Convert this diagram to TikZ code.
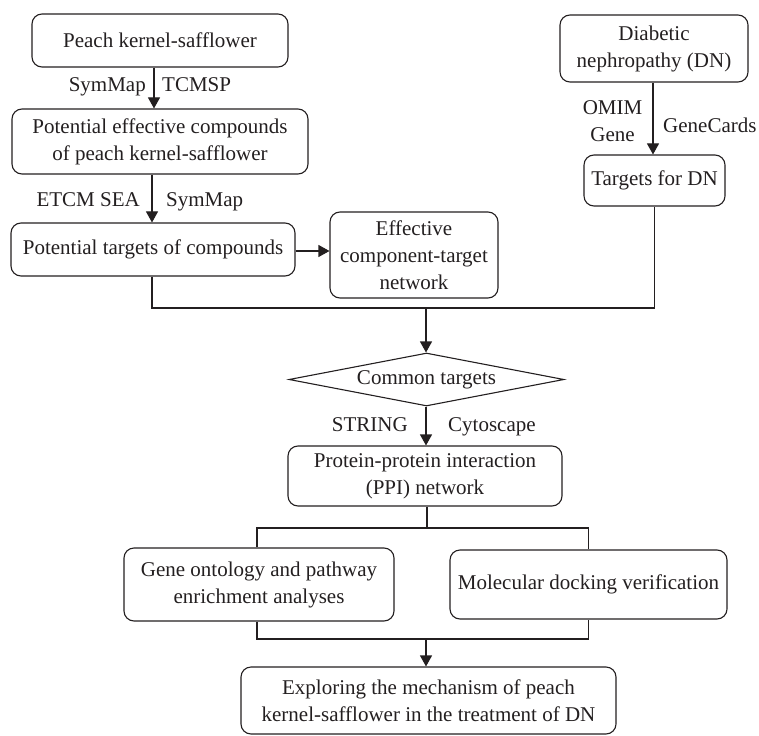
\documentclass[tikz,border=0pt]{standalone}
\usepackage{fontspec}
\setmainfont{Liberation Serif}
\usetikzlibrary{arrows.meta,shapes.geometric}
\definecolor{ink}{HTML}{231F20}
\tikzset{
  box/.style={draw=ink, line width=1.1pt, rounded corners=10pt, align=center,
    inner sep=0pt, text=ink, font=\fontsize{21}{27}\selectfont},
  lab/.style={inner sep=0pt, text=ink, font=\fontsize{21}{27}\selectfont},
  conn/.style={draw=ink, line width=1.1pt},
  arr/.style={conn, -{Triangle[width=12pt,length=11pt]}},
}
\begin{document}
\begin{tikzpicture}[x=1pt,y=-1pt]
\useasboundingbox (0,0) rectangle (759,735);
% boxes
\node[box, minimum width=256pt, minimum height=53pt] (b1) at (160,40.5) {Peach kernel-safflower};
\node[box, minimum width=296pt, minimum height=65pt] (b2) at (160,141.5) {Potential effective compounds\\of peach kernel-safflower};
\node[box, minimum width=284pt, minimum height=53pt] (b3) at (153,249.5) {Potential targets of compounds};
\node[box, minimum width=168pt, minimum height=86pt] (b4) at (414,255) {Effective\\component-target\\network};
\node[box, minimum width=188pt, minimum height=67pt] (dn) at (654,48.5) {Diabetic\\nephropathy (DN)};
\node[box, minimum width=141pt, minimum height=51pt] (tdn) at (654.5,180.5) {Targets for DN};
\node[draw=ink, line width=1.1pt, diamond, aspect=5.2, inner sep=0pt, minimum width=275pt, minimum height=53pt,
  text=ink, font=\fontsize{21}{27}\selectfont] (dia) at (426.5,379.5) {Common targets};
\node[box, minimum width=274pt, minimum height=60pt] (ppi) at (425,476) {Protein-protein interaction\\(PPI) network};
\node[box, minimum width=270pt, minimum height=73pt] (gene) at (259,584.5) {Gene ontology and pathway\\enrichment analyses};
\node[box, minimum width=277pt, minimum height=69pt] (mol) at (588.5,584.5) {Molecular docking verification};
\node[box, minimum width=375pt, minimum height=67pt] (fin) at (428.5,700.5) {Exploring the mechanism of peach\\kernel-safflower in the treatment of DN};
% labels
\node[lab, anchor=base east] (l1) at (146,92) {SymMap};
\node[lab, anchor=base west] (l2) at (162,92) {TCMSP};
\node[lab, anchor=base east] (l3) at (140,207) {ETCM SEA};
\node[lab, anchor=base west] (l4) at (166,207) {SymMap};
\node[lab, align=center] (l5) at (612.5,121.5) {OMIM\\Gene};
\node[lab, anchor=base west] (l6) at (663,133) {GeneCards};
\node[lab, anchor=base east] (l7) at (408,431) {STRING};
\node[lab, anchor=base west] (l8) at (448,431) {Cytoscape};
% junctions
\coordinate (j1) at (426,308);
\coordinate (j2) at (427,528);
\coordinate (j3) at (426,639);
% connectors
\draw[arr] ([xshift=-6pt]b1.south) -- ([xshift=-6pt]b2.north);
\draw[arr] ([xshift=-8pt]b2.south) -- ([xshift=-1pt]b3.north);
\draw[arr] (b3.east |- 0,251) -- (b4.west |- 0,251);
\draw[arr] ([xshift=-1pt]dn.south) -- ([xshift=-1.5pt]tdn.north);
\draw[conn] ([xshift=-1pt]b3.south) |- (j1) -| (tdn.south);
\draw[arr] (j1) -- (dia.north -| j1);
\draw[arr] (dia.south -| j1) -- (ppi.north -| j1);
\draw[conn] (ppi.south -| j2) -- (j2);
\draw[conn] ([xshift=-2pt]gene.north) |- (j2) -| (mol.north);
\draw[conn] ([xshift=-2pt]gene.south) |- (j3) -| (mol.south);
\draw[arr] (j3) -- (fin.north -| j3);
\end{tikzpicture}
\end{document}
